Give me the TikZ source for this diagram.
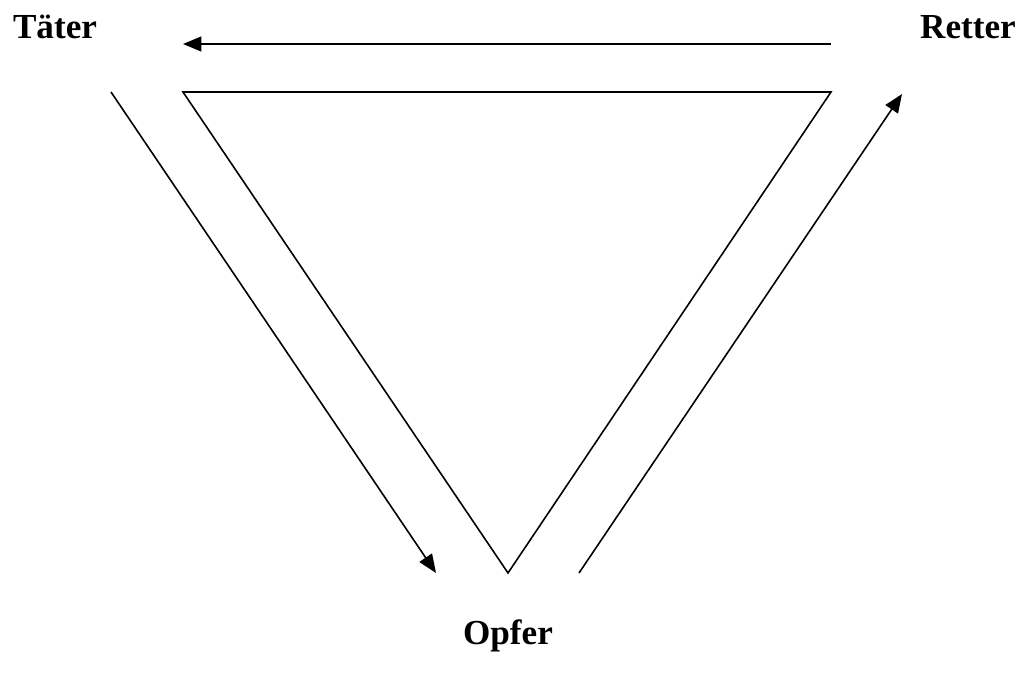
\documentclass[tikz,border=0pt]{standalone}
\usepackage{fontspec}
\setmainfont{Liberation Serif}
\usetikzlibrary{arrows.meta}
\begin{document}
\begin{tikzpicture}[x=0.02cm,y=-0.02cm,
  lbl/.style={font=\fontsize{20}{24}\selectfont\bfseries, inner sep=0pt},
  edge/.style={line width=0.9pt, black},
  arr/.style={edge, -{Triangle[length=0.37cm,width=0.3cm]}}]
\useasboundingbox (0,0) rectangle (1025,673);
\node[lbl] (taeter) at (55,27) {Täter};
\node[lbl] (retter) at (968,27) {Retter};
\node[lbl] (opfer) at (508,636) {Opfer};
\coordinate (tl) at (183,92);
\coordinate (tr) at (831,92);
\coordinate (tb) at (508,573);
\coordinate (a1s) at (831,44);
\coordinate (a1e) at (183,44);
\coordinate (a2s) at (111,92);
\coordinate (a2e) at (436,573);
\coordinate (a3s) at (579,573);
\coordinate (a3e) at (902,94);
\draw[edge, line join=miter] (tl) -- (tr) -- (tb) -- cycle;
\draw[arr] (a1s) -- (a1e);
\draw[arr] (a2s) -- (a2e);
\draw[arr] (a3s) -- (a3e);
\end{tikzpicture}
\end{document}
